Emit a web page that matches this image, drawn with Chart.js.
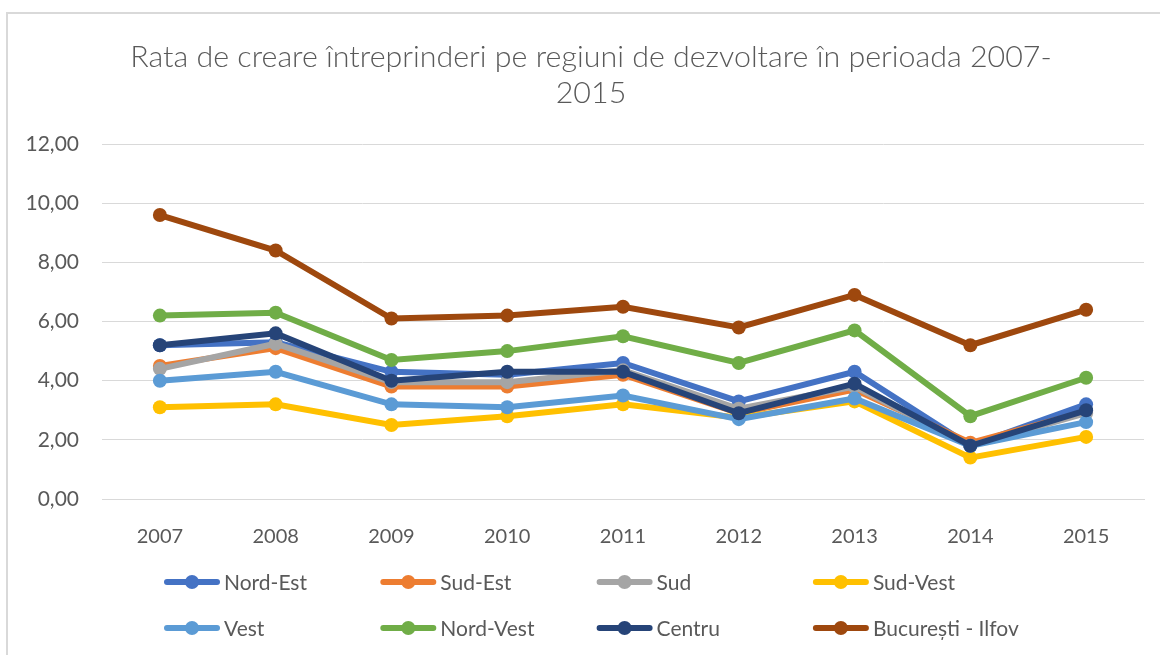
<!DOCTYPE html>
<html>
<head>
<meta charset="utf-8">
<title>Rata de creare întreprinderi</title>
<script src="https://cdn.jsdelivr.net/npm/chart.js@4.4.1/dist/chart.umd.min.js"></script>
<style>
  html, body { margin: 0; padding: 0; background: #fff; }
  #frame {
    position: absolute; left: 6px; top: 12px; width: 1160px; height: 650px;
    border-left: 2px solid #d9d9d9; border-top: 2px solid #d9d9d9;
  }
  #wrap { position: absolute; left: 0; top: 0; width: 1160px; height: 655px; }
</style>
</head>
<body>
<div id="frame"></div>
<div id="wrap"><canvas id="chart" width="1160" height="655"></canvas></div>
<script>
// Rata de creare a întreprinderilor, pe regiuni, 2007-2015
const years = ['2007', '2008', '2009', '2010', '2011', '2012', '2013', '2014', '2015'];

const regions = ['Nord-Est', 'Sud-Est', 'Sud', 'Sud-Vest', 'Vest', 'Nord-Vest', 'Centru', 'București - Ilfov'];

const nordEst  = [5.20, 5.30, 4.30, 4.20, 4.60, 3.30, 4.30, 1.80, 3.20];
const sudEst   = [4.50, 5.10, 3.80, 3.80, 4.20, 2.90, 3.70, 1.90, 2.95];
const sud      = [4.40, 5.25, 3.95, 3.95, 4.35, 3.05, 3.80, 1.80, 2.90];
const sudVest  = [3.10, 3.20, 2.50, 2.80, 3.20, 2.75, 3.30, 1.40, 2.10];
const vest     = [4.00, 4.30, 3.20, 3.10, 3.50, 2.70, 3.40, 1.80, 2.60];
const nordVest = [6.20, 6.30, 4.70, 5.00, 5.50, 4.60, 5.70, 2.80, 4.10];
const centru   = [5.20, 5.60, 4.00, 4.30, 4.30, 2.90, 3.90, 1.80, 3.00];
const bucuresti = [9.60, 8.40, 6.10, 6.20, 6.50, 5.80, 6.90, 5.20, 6.40];

const yTicks = [0, 2, 4, 6, 8, 10, 12];

const seriesValues = [nordEst, sudEst, sud, sudVest, vest, nordVest, centru, bucuresti];
const colors = ['#4472C4', '#ED7D31', '#A5A5A5', '#FFC000', '#5B9BD5', '#70AD47', '#264478', '#9E480E'];

const textColor = '#595959';
const fontFamily = "Lato, 'Open Sans', sans-serif";

// legend laid out as a 4-column grid under the plot
const gridLegend = {
  id: 'gridLegend',
  afterLayout(chart) {
    // nudge the title block a little right of the canvas centre
    const t = chart.titleBlock;
    if (t) { t.left += 13; t.right += 13; }
  },
  afterDraw(chart) {
    const ctx = chart.ctx;
    ctx.save();
    chart.data.datasets.forEach((ds, i) => {
      const x = 164 + (i % 4) * 216.3;
      const y = 582 + Math.floor(i / 4) * 46;
      ctx.strokeStyle = ds.borderColor;
      ctx.lineWidth = 6;
      ctx.lineCap = 'round';
      ctx.beginPath();
      ctx.moveTo(x + 3, y);
      ctx.lineTo(x + 53, y);
      ctx.stroke();
      ctx.fillStyle = ds.borderColor;
      ctx.beginPath();
      ctx.arc(x + 28, y, 7, 0, Math.PI * 2);
      ctx.fill();
      ctx.fillStyle = textColor;
      ctx.font = '21px ' + fontFamily;
      ctx.textBaseline = 'middle';
      ctx.textAlign = 'left';
      ctx.fillText(ds.label, x + 60, y + 1);
    });
    ctx.restore();
  }
};

const datasets = regions.map((name, i) => ({
  label: name,
  data: seriesValues[i],
  borderColor: colors[i],
  backgroundColor: colors[i],
  pointBackgroundColor: colors[i],
  pointBorderColor: colors[i],
  borderWidth: 6,
  pointRadius: 7,
  pointBorderWidth: 0,
  tension: 0,
  // later regions sit on top
  order: regions.length - i
}));

new Chart(document.getElementById('chart'), {
  type: 'line',
  data: { labels: years, datasets: datasets },
  options: {
    responsive: false,
    animation: false,
    layout: { padding: { left: 12, right: 16, top: 0, bottom: 106 } },
    plugins: {
      legend: { display: false },
      tooltip: { enabled: false },
      title: {
        display: true,
        text: ['Rata de creare întreprinderi pe regiuni de dezvoltare în perioada 2007-', '2015'],
        color: textColor,
        font: { family: fontFamily, size: 30.4, weight: '300', lineHeight: 1.18 },
        padding: { top: 39, bottom: 33.3 }
      }
    },
    scales: {
      x: {
        offset: true,
        grid: { display: false },
        border: { display: true, color: '#d9d9d9', width: 1 },
        ticks: { color: textColor, font: { family: fontFamily, size: 20 }, padding: 18 },
        afterFit: s => { s.height = 50; }
      },
      y: {
        min: 0,
        max: 12,
        afterBuildTicks: s => { s.ticks = yTicks.map(v => ({ value: v })); },
        grid: { color: '#d9d9d9', lineWidth: 1, drawTicks: false },
        border: { display: false },
        ticks: {
          color: textColor,
          font: { family: fontFamily, size: 21 },
          padding: 23,
          callback: v => v.toFixed(2).replace('.', ',')
        },
        afterFit: s => { s.width = 90; }
      }
    }
  },
  plugins: [gridLegend]
});
</script>
</body>
</html>
